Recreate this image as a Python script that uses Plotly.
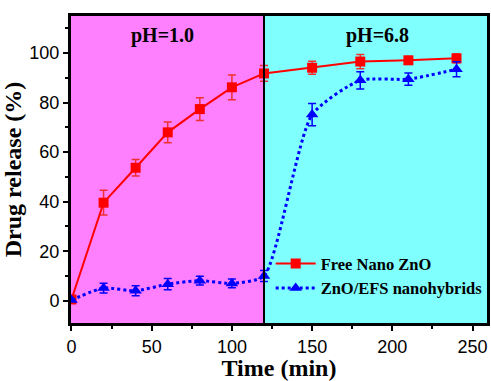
import plotly.graph_objects as go

time_min = [0, 20, 40, 60, 80, 100, 120, 150, 180, 210, 240]
free_zno = [0.5, 39.6, 53.7, 68.0, 77.4, 86.2, 91.8, 94.1, 96.6, 97.1, 97.9]
free_err = [0.5, 5.0, 3.3, 4.2, 4.6, 5.0, 3.2, 2.6, 2.9, 1.5, 1.8]
zno_efs = [0.3, 5.1, 4.0, 6.7, 8.1, 7.0, 10.0, 75.2, 89.0, 89.5, 93.5]
efs_err = [0.5, 2.0, 2.0, 2.3, 1.8, 1.8, 2.2, 4.5, 3.5, 2.5, 3.0]
x_ticks = [0, 50, 100, 150, 200, 250]
y_ticks = [0, 20, 40, 60, 80, 100]
region_labels = ["pH=1.0", "pH=6.8"]

XMIN, XMAX = -0.3, 259
YMIN, YMAX = -9, 115

fig = go.Figure()

fig.add_trace(go.Scatter(
    x=time_min, y=free_zno, name="Free Nano ZnO",
    mode="lines+markers",
    line=dict(color="#FF0000", width=2),
    marker=dict(symbol="square", size=10, color="#FF0000"),
    error_y=dict(type="data", array=free_err, visible=True, color="#F03030", thickness=1.5, width=4),
))
fig.add_trace(go.Scatter(
    x=time_min, y=zno_efs, name="ZnO/EFS nanohybrids",
    mode="lines+markers",
    line=dict(color="#0000FF", width=3, dash="dot", shape="spline", smoothing=0.6),
    marker=dict(symbol="triangle-up", size=11, color="#0000FF"),
    error_y=dict(type="data", array=efs_err, visible=True, color="#0000FF", thickness=1.5, width=4),
))

fig.add_shape(type="rect", x0=XMIN, x1=120, y0=YMIN, y1=YMAX, fillcolor="#FF80FF",
              line=dict(width=0), layer="below")
fig.add_shape(type="rect", x0=120, x1=XMAX, y0=YMIN, y1=YMAX, fillcolor="#80FFFF",
              line=dict(width=0), layer="below")
fig.add_shape(type="line", x0=120, x1=120, y0=YMIN, y1=YMAX, line=dict(color="black", width=2))

fig.add_annotation(x=57, y=107, text="<b>" + region_labels[0] + "</b>", showarrow=False,
                   font=dict(family="Liberation Serif", size=20, color="black"))
fig.add_annotation(x=191, y=107, text="<b>" + region_labels[1] + "</b>", showarrow=False,
                   font=dict(family="Liberation Serif", size=20, color="black"))

fig.update_layout(
    width=491, height=381,
    margin=dict(l=71, r=1, t=16, b=58),
    paper_bgcolor="white", plot_bgcolor="white",
    showlegend=True,
    legend=dict(x=0.48, y=0.25, xanchor="left", yanchor="top",
                bgcolor="rgba(0,0,0,0)", borderwidth=0,
                font=dict(family="Liberation Serif", size=16.5, color="black"),
                itemwidth=40, tracegroupgap=0),
    xaxis=dict(range=[XMIN, XMAX], tickvals=x_ticks, showgrid=False, zeroline=False,
               showline=True, linecolor="black", linewidth=3, mirror=True,
               ticks="outside", ticklen=5, tickwidth=2, tickcolor="black",
               minor=dict(ticks="outside", ticklen=3, tickwidth=2, dtick=25, tick0=0, tickcolor="black"),
               tickfont=dict(family="Liberation Sans", size=18, color="black"),
               title=dict(text="<b>Time (min)</b>", standoff=2,
                          font=dict(family="Liberation Serif", size=24, color="black"))),
    yaxis=dict(range=[YMIN, YMAX], tickvals=y_ticks, showgrid=False, zeroline=False,
               showline=True, linecolor="black", linewidth=3, mirror=True,
               ticks="outside", ticklen=5, tickwidth=2, tickcolor="black",
               minor=dict(ticks="outside", ticklen=3, tickwidth=2, dtick=10, tick0=0, tickcolor="black"),
               tickfont=dict(family="Liberation Sans", size=18, color="black"),
               title=dict(text="<b>Drug release (%)</b>", standoff=4,
                          font=dict(family="Liberation Serif", size=24, color="black"))),
)
fig.update_xaxes(tickprefix="<b>", ticksuffix="</b>")
fig.update_yaxes(tickprefix="<b>", ticksuffix="</b>")

for tr in fig.data:
    tr.name = "<b>" + tr.name + "</b>"

fig.write_html("out.html")
